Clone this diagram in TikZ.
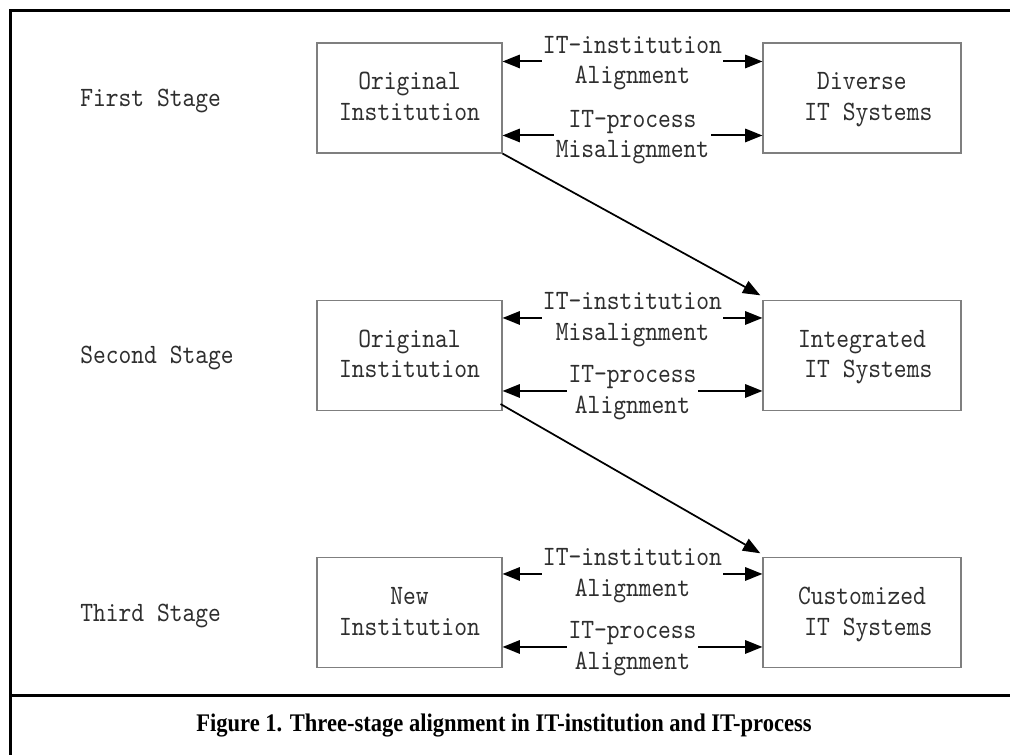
\documentclass[tikz,border=0pt]{standalone}
\usepackage{fontspec}
\newfontfamily\labfont[FakeStretch=0.87]{lmmono10-regular.otf}
\newfontfamily\capfont[FakeStretch=0.89]{Liberation Serif}
\usetikzlibrary{arrows.meta,calc}
\definecolor{boxgray}{HTML}{7F7F7F}
\definecolor{txt}{HTML}{2E2E2E}
\newcommand\ls{\rule[-6pt]{0pt}{22.875pt}}
\tikzset{
  monofont/.style={font=\labfont\fontsize{21pt}{22.875pt}\selectfont, text=txt},
  abox/.style={draw=boxgray, line width=0.8pt, inner sep=0pt, minimum width=138.75pt, minimum height=82.5pt, align=center, monofont},
  bbox/.style={abox, minimum width=148.5pt},
  lab/.style={monofont, align=center, fill=white, inner xsep=1pt, inner ysep=0pt},
  stagelab/.style={monofont, anchor=base west, inner sep=0pt},
  dbl/.style={line width=1.5pt, {Triangle[length=13pt,width=10pt]}-{Triangle[length=13pt,width=10pt]}},
  diag/.style={line width=1.3pt, -{Triangle[length=13pt,width=10pt]}, shorten >=1pt},
  frame/.style={line width=2.25pt, line join=miter, line cap=butt},
}
\begin{document}
\begin{tikzpicture}[x=0.75pt, y=-0.75pt]
\useasboundingbox (0,0) rectangle (1010,755);
% frame
\draw[frame] (10,755) -- (10,10.5) -- (1012,10.5);
\draw[frame] (10,695) -- (1012,695);
% stage labels
\node[stagelab] (s1) at (80,107) {First Stage};
\node[stagelab] (s2) at (80,364) {Second Stage};
\node[stagelab] (s3) at (80,621) {Third Stage};
% boxes
\node[abox] (A1) at (409.5,98) {\ls Original\\\ls Institution};
\node[bbox] (B1) at (862,98) {\ls Diverse\\\ls\mbox{\ }IT Systems};
\node[abox] (A2) at (409.5,355.5) {\ls Original\\\ls Institution};
\node[bbox] (B2) at (862,355.5) {\ls Integrated\\\ls\mbox{\ }IT Systems};
\node[abox] (A3) at (409.5,612.5) {\ls New\\\ls Institution};
\node[bbox] (B3) at (862,612.5) {\ls Customized\\\ls\mbox{\ }IT Systems};
% stage 1
\draw[dbl] ($(A1.north east)+(0,19)$) -- ($(B1.north west)+(0,19)$)
  node[lab, midway] (l1a) {\ls IT-institution\\\ls Alignment};
\draw[dbl] ($(A1.north east)+(0,93)$) -- ($(B1.north west)+(0,93)$)
  node[lab, midway] (l1b) {\ls IT-process\\\ls Misalignment};
% stage 2
\draw[dbl] ($(A2.north east)+(0,18)$) -- ($(B2.north west)+(0,18)$)
  node[lab, midway] (l2a) {\ls IT-institution\\\ls Misalignment};
\draw[dbl] ($(A2.north east)+(0,91)$) -- ($(B2.north west)+(0,91)$)
  node[lab, midway] (l2b) {\ls IT-process\\\ls Alignment};
% stage 3
\draw[dbl] ($(A3.north east)+(0,17)$) -- ($(B3.north west)+(0,17)$)
  node[lab, midway] (l3a) {\ls IT-institution\\\ls Alignment};
\draw[dbl] ($(A3.north east)+(0,90)$) -- ($(B3.north west)+(0,90)$)
  node[lab, midway] (l3b) {\ls IT-process\\\ls Alignment};
% transitions
\draw[diag] (A1.south east) -- ($(B2.north west)+(-1,-4)$);
\draw[diag] ($(A2.south east)+(-2,-7)$) -- ($(B3.north west)+(-1,-3)$);
% caption
\node[font=\capfont\bfseries\fontsize{19pt}{22pt}\selectfont, anchor=base, inner sep=0pt] (cap) at (504,731)
  {Figure 1. Three-stage alignment in IT-institution and IT-process};
\end{tikzpicture}
\end{document}
